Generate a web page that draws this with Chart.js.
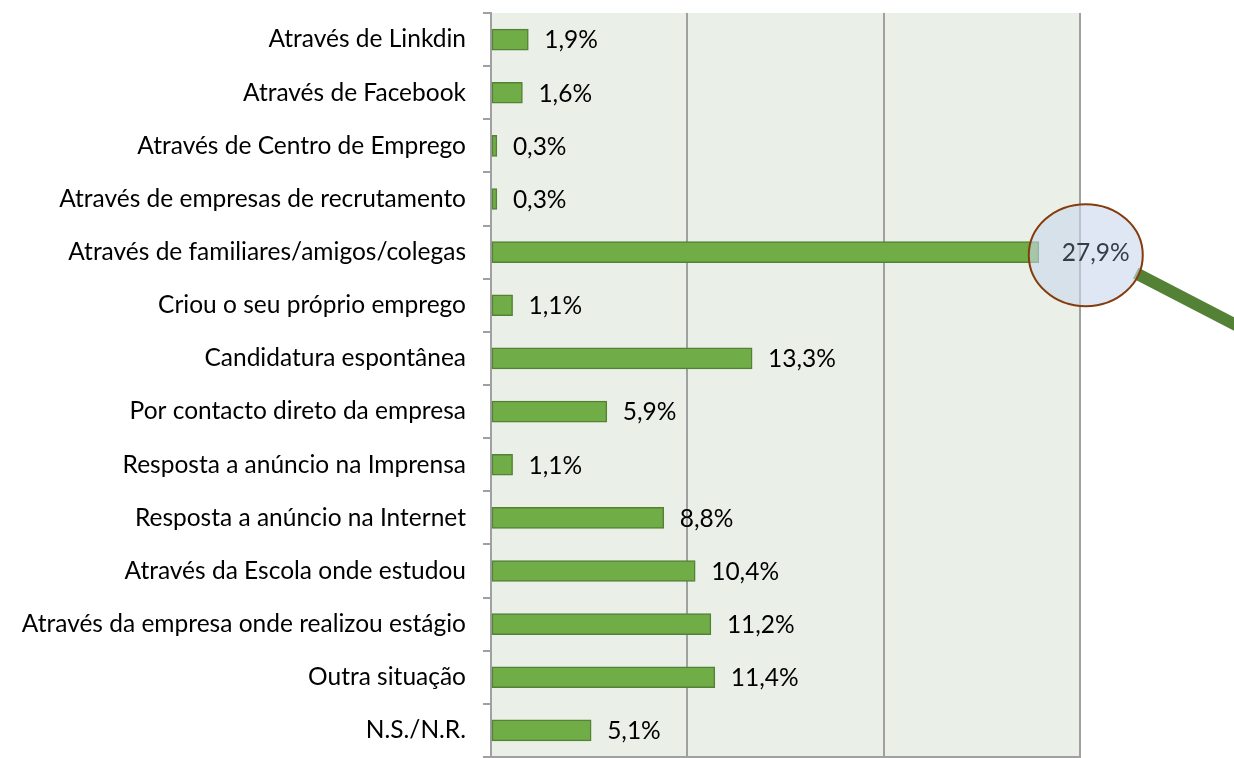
<!DOCTYPE html>
<html>
<head>
<meta charset="utf-8">
<script src="https://cdn.jsdelivr.net/npm/chart.js@4"></script>
<style>
  html, body { margin: 0; padding: 0; background: #fff; }
  #wrap { width: 1234px; height: 758px; }
</style>
</head>
<body>
<div id="wrap"><canvas id="chart" width="1234" height="758"></canvas></div>
<script>
const categories = [
  "Através de Linkdin",
  "Através de Facebook",
  "Através de Centro de Emprego",
  "Através de empresas de recrutamento",
  "Através de familiares/amigos/colegas",
  "Criou o seu próprio emprego",
  "Candidatura espontânea",
  "Por contacto direto da empresa",
  "Resposta a anúncio na Imprensa",
  "Resposta a anúncio na Internet",
  "Através da Escola onde estudou",
  "Através da empresa onde realizou estágio",
  "Outra situação",
  "N.S./N.R."
];
const values = [1.9, 1.6, 0.3, 0.3, 27.9, 1.1, 13.3, 5.9, 1.1, 8.8, 10.4, 11.2, 11.4, 5.1];
const axisMax = 30;
const highlightIndex = 4;

const fontFamily = "Lato, 'Open Sans', sans-serif";
const fontSize = 24.5;

function fmt(v) {
  return v.toFixed(1).replace('.', ',') + '%';
}

const plotBg = {
  id: 'plotBg',
  beforeDraw(chart) {
    const { ctx, chartArea: a } = chart;
    ctx.save();
    ctx.fillStyle = '#EAEFE8';
    ctx.fillRect(a.left, a.top, a.right - a.left, a.bottom - a.top);
    ctx.restore();
  }
};

const valueLabels = {
  id: 'valueLabels',
  afterDatasetsDraw(chart) {
    const { ctx } = chart;
    const meta = chart.getDatasetMeta(0);
    ctx.save();
    ctx.font = fontSize + 'px ' + fontFamily;
    ctx.fillStyle = '#000';
    ctx.textBaseline = 'middle';
    meta.data.forEach((bar, i) => {
      if (i === highlightIndex) return;
      ctx.fillText(fmt(values[i]), bar.x + 16, bar.y + 1);
    });
    ctx.restore();
  }
};

// magnifier drawn over the highlighted value
const magnifier = {
  id: 'magnifier',
  afterDraw(chart) {
    const { ctx } = chart;
    const bar = chart.getDatasetMeta(0).data[highlightIndex];
    const cx = bar.x + 47, cy = bar.y + 3;
    ctx.save();
    ctx.strokeStyle = '#538135';
    ctx.lineWidth = 12;
    ctx.beginPath();
    ctx.moveTo(cx + 50, cy + 18);
    ctx.lineTo(1240, cy + 72);
    ctx.stroke();

    ctx.beginPath();
    ctx.ellipse(cx, cy, 57, 51, 0, 0, Math.PI * 2);
    ctx.fillStyle = 'rgba(200,215,235,0.6)';
    ctx.fill();
    ctx.lineWidth = 2;
    ctx.strokeStyle = '#843C0C';
    ctx.stroke();

    ctx.font = fontSize + 'px ' + fontFamily;
    ctx.fillStyle = '#333E48';
    ctx.textBaseline = 'middle';
    ctx.textAlign = 'center';
    ctx.fillText(fmt(values[highlightIndex]), cx + 10, cy - 2);
    ctx.restore();
  }
};

function noPad(scale) {
  scale.paddingTop = 0;
  scale.paddingBottom = 0;
  scale.paddingLeft = 0;
  scale.paddingRight = 0;
}

new Chart(document.getElementById('chart'), {
  type: 'bar',
  data: {
    labels: categories,
    datasets: [{
      data: values,
      backgroundColor: '#70AD47',
      borderColor: '#548235',
      borderWidth: 1.5,
      borderSkipped: false,
      barThickness: 21
    }]
  },
  options: {
    indexAxis: 'y',
    responsive: false,
    animation: false,
    layout: { padding: { top: 13, right: 154, bottom: 1, left: 0 } },
    plugins: {
      legend: { display: false },
      tooltip: { enabled: false }
    },
    scales: {
      x: {
        min: 0,
        max: axisMax,
        ticks: { display: false, stepSize: 10 },
        grid: { color: '#A0A0A0', lineWidth: 2, drawTicks: false },
        border: { display: true, color: '#A0A0A0', width: 2 },
        afterFit(scale) { scale.height = 0; noPad(scale); }
      },
      y: {
        ticks: {
          color: '#000',
          font: { family: fontFamily, size: fontSize },
          padding: 17
        },
        grid: { drawOnChartArea: false, drawTicks: true, tickLength: 8, color: '#A0A0A0', lineWidth: 2 },
        border: { display: true, color: '#A0A0A0', width: 2 },
        afterFit(scale) { scale.width = 491; noPad(scale); }
      }
    }
  },
  plugins: [plotBg, valueLabels, magnifier]
});
</script>
</body>
</html>
